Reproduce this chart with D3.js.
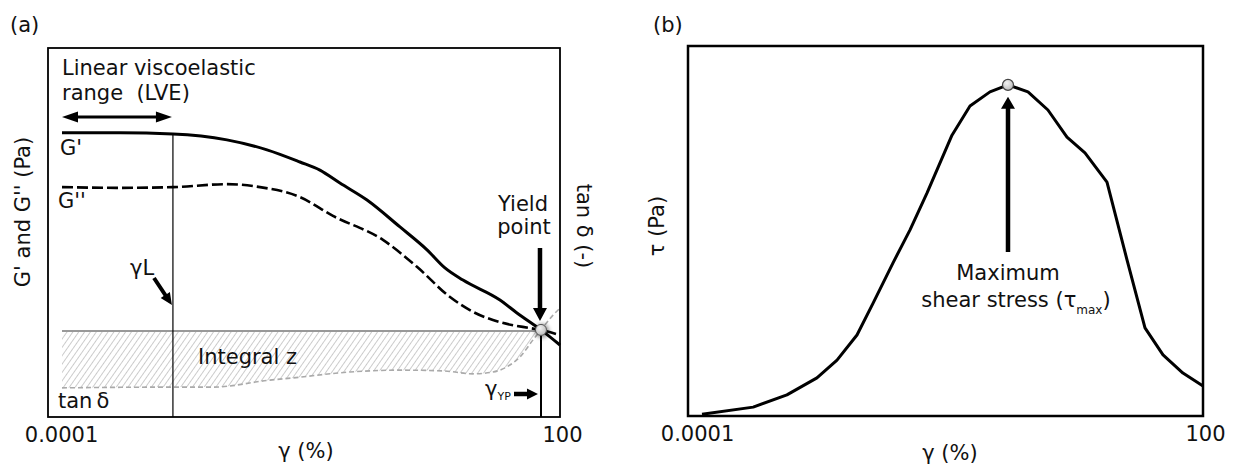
<!DOCTYPE html>
<html>
<head>
<meta charset="utf-8">
<script src="https://cdn.jsdelivr.net/npm/d3@7"></script>
<style>
  html, body { margin: 0; padding: 0; background: #fff; }
  svg { display: block; font-family: "DejaVu Sans", Verdana, sans-serif; }
  text { fill: #111; }
</style>
</head>
<body>
<svg id="chart" width="1234" height="468"></svg>
<script>
// ---------------- DATA ----------------
// x: strain gamma (%), log axis 0.0001 .. 100 ; y: relative (arbitrary) units 0..100
const tickValues = [0.0001, 100];
const tickLabels = ["0.0001", "100"];

// Panel (a) – storage modulus G'
const gpGamma = [0.0001, 0.0005, 0.00217, 0.0097, 0.0295, 0.0736, 0.128, 0.223, 0.473, 1.18, 2.5, 4.11, 6.78, 18.9, 30.3, 59.0, 100];
const gpValue = [77.0, 77.0, 76.7, 75.1, 72.4, 69.1, 66.9, 63.4, 58.8, 51.5, 45.3, 40.4, 37.1, 31.7, 28.2, 23.6, 19.5];

// Panel (a) – loss modulus G''
const gppGamma = [0.0001, 0.0005, 0.00217, 0.0097, 0.0243, 0.0736, 0.184, 0.736, 1.89, 4.73, 8.95, 18.9, 43.5, 59.0, 89.5];
const gppValue = [62.3, 62.1, 62.3, 63.1, 62.3, 59.6, 54.5, 48.0, 40.7, 32.5, 28.5, 25.7, 24.1, 23.6, 22.5];

// Panel (a) – loss factor tan delta
const tdGamma = [0.0001, 0.00217, 0.0066, 0.032, 0.0607, 0.295, 1.18, 3.89, 8.95, 15.6, 23.0, 33.0, 47.3, 59.0, 82.4, 100];
const tdValue = [7.9, 8.1, 8.1, 10.0, 10.6, 12.2, 12.7, 12.5, 11.7, 12.2, 13.6, 16.3, 20.9, 23.6, 27.6, 29.5];

const gammaL = 0.00217;      // end of linear viscoelastic range
const yieldGamma = 59.0;     // yield point strain
const yieldValue = 23.6;     // G' = G'' at the yield point
const tanRefValue = 23.3;    // reference level for integral z

// Panel (b) – shear stress tau
const tauGamma = [0.0001, 0.00041, 0.00104, 0.00238, 0.00414, 0.00718, 0.0112, 0.0194, 0.031, 0.0496, 0.0986, 0.162, 0.281, 0.462, 0.802, 1.39, 2.35, 3.86, 7.08, 12.3, 20.2, 33.2, 57.5, 100];
const tauValue = [0.5, 2.4, 5.7, 10.3, 15.1, 21.9, 30.5, 41.4, 50.3, 60.3, 75.9, 83.8, 87.6, 89.5, 87.6, 82.7, 75.4, 71.1, 63.2, 42.2, 23.8, 16.5, 11.6, 8.1];

// ---------------- LAYOUT ----------------
const FONT = 21;
const svg = d3.select("#chart");
const A = { left: 48, top: 48, right: 560, bottom: 417 };
const B = { left: 688, top: 46, right: 1203, bottom: 416 };

const xA = d3.scaleLog().domain([1e-4, 100]).range([62, 560]);
const yA = d3.scaleLinear().domain([0, 100]).range([A.bottom, A.top]);
const xB = d3.scaleLog().domain([1e-4, 100]).range([702, 1203]);
const yB = d3.scaleLinear().domain([0, 100]).range([B.bottom, B.top]);

const zip = (xs, ys) => xs.map((x, i) => [x, ys[i]]);

// defs
const defs = svg.append("defs");
const pat = defs.append("pattern").attr("id", "hatch")
  .attr("patternUnits", "userSpaceOnUse").attr("width", 4.8).attr("height", 10)
  .attr("patternTransform", "rotate(35)");
pat.append("line").attr("x1", 0).attr("y1", 0).attr("x2", 0).attr("y2", 10)
  .attr("stroke", "#9a9a9a").attr("stroke-width", 1);
const blur = defs.append("filter").attr("id", "blur").attr("x", "-1").attr("y", "-1").attr("width", "3").attr("height", "3");
blur.append("feGaussianBlur").attr("stdDeviation", 2.2);
const rg = defs.append("radialGradient").attr("id", "ball").attr("cx", "40%").attr("cy", "35%").attr("r", "70%");
rg.append("stop").attr("offset", "0%").attr("stop-color", "#f2f2f2");
rg.append("stop").attr("offset", "100%").attr("stop-color", "#b8b8b8");

function txt(g, x, y, s, o = {}) {
  return g.append("text").attr("x", x).attr("y", y)
    .attr("font-size", o.size || FONT)
    .attr("text-anchor", o.anchor || "start")
    .text(s);
}
function rtxt(g, x, y, s, rot) {
  return g.append("text").attr("transform", `translate(${x},${y}) rotate(${rot})`)
    .attr("font-size", FONT).attr("text-anchor", "middle").text(s);
}
// filled arrow polygon from (x1,y1) to tip (x2,y2)
function arrowPath(x1, y1, x2, y2, sw, hl, hw, both) {
  const dx = x2 - x1, dy = y2 - y1, L = Math.hypot(dx, dy);
  const ux = dx / L, uy = dy / L, nx = -uy, ny = ux;
  const P = (s, n) => [x1 + ux * s + nx * n, y1 + uy * s + ny * n];
  const s1 = L - hl;
  let pts;
  if (both) {
    pts = [P(0, 0), P(hl, hw / 2), P(hl, sw / 2), P(s1, sw / 2), P(s1, hw / 2), P(L, 0),
           P(s1, -hw / 2), P(s1, -sw / 2), P(hl, -sw / 2), P(hl, -hw / 2)];
  } else {
    pts = [P(0, sw / 2), P(s1, sw / 2), P(s1, hw / 2), P(L, 0), P(s1, -hw / 2), P(s1, -sw / 2), P(0, -sw / 2)];
  }
  return "M" + pts.map(p => p.join(",")).join("L") + "Z";
}
function arrow(g, x1, y1, x2, y2, sw, hl, hw, both) {
  g.append("path").attr("d", arrowPath(x1, y1, x2, y2, sw, hl, hw, both)).attr("fill", "#000");
}
function bottomAxis(g, x, y, offsets) {
  const ax = g.append("g").attr("transform", `translate(0,${y})`)
    .call(d3.axisBottom(x).tickValues(tickValues).tickFormat((d, i) => tickLabels[i]).tickSize(0).tickPadding(10));
  ax.select(".domain").remove();
  ax.selectAll("text").attr("font-size", FONT).attr("font-family", "DejaVu Sans, sans-serif").attr("fill", "#111")
    .attr("dx", (d, i) => offsets[i]);
}

// ================= PANEL (a) =================
const ga = svg.append("g");
txt(ga, 10, 32, "(a)");

// hatched integral region between tan delta and reference level
const tdLVE = zip(tdGamma, tdValue).filter(d => d[0] <= yieldGamma);
ga.append("path")
  .datum(tdLVE)
  .attr("d", d3.area().x(d => xA(d[0])).y0(d => yA(d[1])).y1(yA(tanRefValue)).curve(d3.curveMonotoneX))
  .attr("fill", "url(#hatch)");
ga.append("line")
  .attr("x1", xA(1e-4)).attr("x2", xA(yieldGamma))
  .attr("y1", yA(tanRefValue)).attr("y2", yA(tanRefValue))
  .attr("stroke", "#999").attr("stroke-width", 2);

// tan delta dashed gray
ga.append("path").datum(zip(tdGamma, tdValue))
  .attr("d", d3.line().x(d => xA(d[0])).y(d => yA(d[1])).curve(d3.curveMonotoneX))
  .attr("fill", "none").attr("stroke", "#aaa").attr("stroke-width", 1.6).attr("stroke-dasharray", "5,3");

// vertical at gamma_L
const gpAtL = gpValue[gpGamma.indexOf(gammaL)];
ga.append("line").attr("x1", xA(gammaL)).attr("x2", xA(gammaL))
  .attr("y1", yA(gpAtL)).attr("y2", A.bottom).attr("stroke", "#000").attr("stroke-width", 1.2);

// G'' dashed
ga.append("path").datum(zip(gppGamma, gppValue))
  .attr("d", d3.line().x(d => xA(d[0])).y(d => yA(d[1])).curve(d3.curveMonotoneX))
  .attr("fill", "none").attr("stroke", "#000").attr("stroke-width", 2.6).attr("stroke-dasharray", "11,4");

// G' solid
ga.append("path").datum(zip(gpGamma, gpValue))
  .attr("d", d3.line().x(d => xA(d[0])).y(d => yA(d[1])).curve(d3.curveMonotoneX))
  .attr("fill", "none").attr("stroke", "#000").attr("stroke-width", 3);

// yield vertical
ga.append("line").attr("x1", xA(yieldGamma)).attr("x2", xA(yieldGamma))
  .attr("y1", yA(yieldValue)).attr("y2", A.bottom).attr("stroke", "#000").attr("stroke-width", 2);

// yield point marker
ga.append("circle").attr("cx", xA(yieldGamma) + 1).attr("cy", yA(yieldValue) + 1).attr("r", 7)
  .attr("fill", "#000").attr("opacity", 0.45).attr("filter", "url(#blur)");
ga.append("circle").attr("cx", xA(yieldGamma)).attr("cy", yA(yieldValue)).attr("r", 5.5)
  .attr("fill", "url(#ball)").attr("stroke", "#555").attr("stroke-width", 1);

// frame
ga.append("rect").attr("x", A.left).attr("y", A.top)
  .attr("width", A.right - A.left).attr("height", A.bottom - A.top)
  .attr("fill", "none").attr("stroke", "#000").attr("stroke-width", 1.8);

// annotations
txt(ga, 62, 75, "Linear viscoelastic");
txt(ga, 62, 100, "range\u00a0\u00a0(LVE)");
arrow(ga, xA(1e-4), 117, xA(gammaL) - 1, 117, 3.2, 16, 11, true);
txt(ga, 60, 155, "G'");
txt(ga, 58, 208, "G''");
txt(ga, 58, 408, "tan\u2009δ");
txt(ga, 130, 275, "γL");
arrow(ga, 154, 278, xA(gammaL) - 1, 305, 4, 12, 11, false);
txt(ga, 198, 364, "Integral z");
txt(ga, 523, 211, "Yield", { anchor: "middle" });
txt(ga, 524, 234, "point", { anchor: "middle" });
arrow(ga, xA(yieldGamma) - 1, 248, xA(yieldGamma) - 1, yA(yieldValue) - 9, 4.5, 13, 14, false);
const typ = ga.append("text").attr("x", 485).attr("y", 396).attr("font-size", FONT);
typ.append("tspan").text("γ");
typ.append("tspan").attr("font-size", 11).attr("dy", 4).text("YP");
arrow(ga, 514, 394, xA(yieldGamma) - 3, 394, 4.5, 11, 11, false);

rtxt(ga, 30, 212, "G' and G'' (Pa)", -90);
rtxt(ga, 577, 226, "tan δ (-)", 90);
bottomAxis(ga, xA, A.bottom, [-1, 2]);
txt(ga, 306, 458, "γ (%)", { anchor: "middle" });

// ================= PANEL (b) =================
const gb = svg.append("g");
txt(gb, 653, 32, "(b)");

gb.append("path").datum(zip(tauGamma, tauValue))
  .attr("d", d3.line().x(d => xB(d[0])).y(d => yB(d[1])).curve(d3.curveLinear))
  .attr("fill", "none").attr("stroke", "#000").attr("stroke-width", 3).attr("stroke-linejoin", "round");

gb.append("rect").attr("x", B.left).attr("y", B.top)
  .attr("width", B.right - B.left).attr("height", B.bottom - B.top)
  .attr("fill", "none").attr("stroke", "#000").attr("stroke-width", 2.5);

const iMax = d3.maxIndex(tauValue);
const mx = xB(tauGamma[iMax]), my = yB(tauValue[iMax]);
gb.append("circle").attr("cx", mx).attr("cy", my).attr("r", 5.5)
  .attr("fill", "url(#ball)").attr("stroke", "#444").attr("stroke-width", 1.2);
arrow(gb, mx, 252, mx, my + 12, 4.5, 12, 14, false);

txt(gb, mx, 280, "Maximum", { anchor: "middle" });
const sst = gb.append("text").attr("x", mx + 8).attr("y", 307).attr("font-size", FONT).attr("text-anchor", "middle");
sst.append("tspan").text("shear stress (τ");
sst.append("tspan").attr("font-size", 12).attr("dy", 7).text("max");
sst.append("tspan").attr("dy", -7).text(")");

rtxt(gb, 664, 226, "τ (Pa)", -90);
bottomAxis(gb, xB, B.bottom, [-5, 2]);
txt(gb, 950, 460, "γ (%)", { anchor: "middle" });
</script>
</body>
</html>
